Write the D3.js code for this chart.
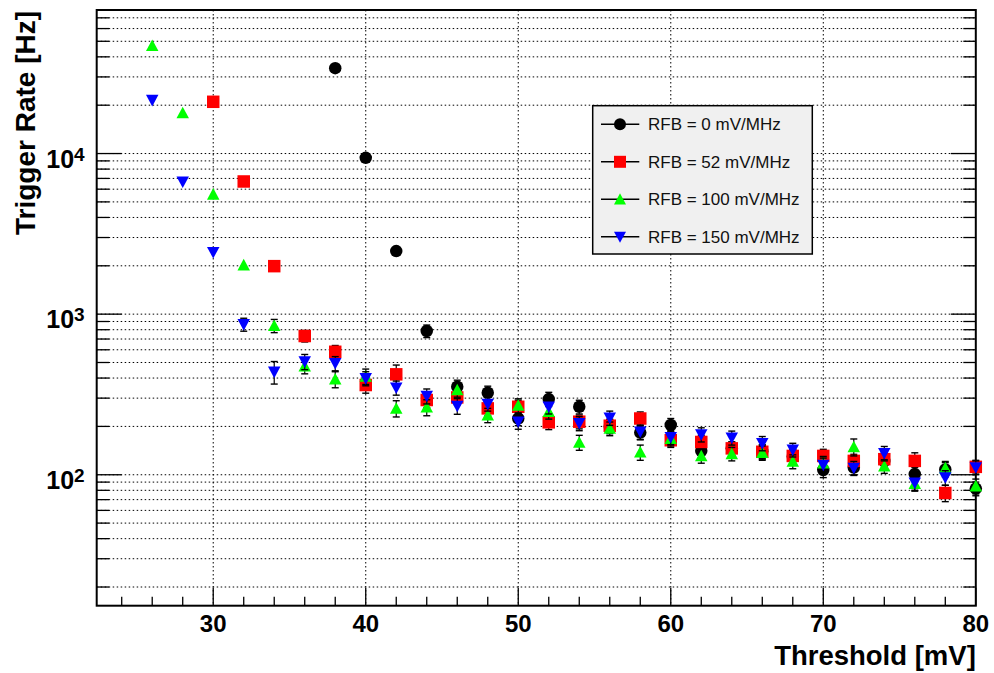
<!DOCTYPE html>
<html><head><meta charset="utf-8">
<script src="https://cdn.jsdelivr.net/npm/d3@7"></script>
<style>
html,body{margin:0;padding:0;background:#fff;}
svg{display:block;font-family:"Liberation Sans",Arial,Helvetica,sans-serif;}
</style></head>
<body><svg id="c" width="994" height="673"></svg>
<script>
const thresholds = [26,28,30,32,34,36,38,40,42,44,46,48,50,52,54,56,58,60,62,64,66,68,70,72,74,76,78,80];
const rfb0   = [null,null,null,null,null,null,34000,9400,2470,785,353,324,224,296,265,200,183,204,141,146,140,130,107,111,122,101,108,82];
const rfb0Err= [null,null,null,null,null,null,0,0,0,70,35,32,22,30,26,20,18,20,14,14,14,13,11,11,12,10,11,8];
const rfb52   = [null,null,21000,6700,1990,731,583,362,422,292,303,259,265,212,214,202,224,164,160,146,139,131,131,122,125,122,77,112];
const rfb52Err= [null,null,0,0,0,60,55,40,60,30,30,26,26,21,21,20,22,16,16,14,14,13,13,12,12,15,9,11];
const rfb100   = [46900,17900,5570,2020,847,475,393,410,259,263,337,235,270,247,159,194,138,168,131,135,137,121,118,149,113,88,110,85];
const rfb100Err= [0,0,0,0,80,50,45,45,30,30,33,24,27,25,17,19,15,17,13,13,14,12,12,18,11,9,11,9];
const rfb150   = [21500,6670,2430,863,437,506,494,398,348,309,268,276,214,265,209,226,185,171,178,170,157,143,115,110,136,89,96,111];
const rfb150Err= [0,0,0,80,70,55,50,40,35,33,30,27,22,26,21,23,19,17,18,17,16,14,12,11,14,9,10,11];
const seriesNames = ["RFB = 0 mV/MHz","RFB = 52 mV/MHz","RFB = 100 mV/MHz","RFB = 150 mV/MHz"];
const seriesColors = ["#000000","#ff0000","#00ff00","#0000ff"];
const seriesShapes = ["circle","square","triangleUp","triangleDown"];
const xTicks = [30,40,50,60,70,80];
const yMajor = [100,1000,10000];
const xTitle = "Threshold [mV]";
const yTitle = "Trigger Rate [Hz]";

const series = [
  {name:seriesNames[0], vals:rfb0, errs:rfb0Err},
  {name:seriesNames[1], vals:rfb52, errs:rfb52Err},
  {name:seriesNames[2], vals:rfb100, errs:rfb100Err},
  {name:seriesNames[3], vals:rfb150, errs:rfb150Err}
];

const L=96.7, R=975.8, T=10, B=605.7;
const svg = d3.select("#c");
const x = d3.scaleLinear().domain([22.36,80]).range([L,R]);
const y = d3.scaleLog().domain([15.3,78300]).range([B,T]);

// grid
const gridVals = [];
[10,100,1000,10000].forEach(d=>{for(let k=1;k<10;k++){const v=d*k; if(v>y.domain()[0]&&v<y.domain()[1]) gridVals.push(v);}});
const g = svg.append("g");
g.selectAll("line.hg").data(gridVals).enter().append("line")
  .attr("x1",L).attr("x2",R).attr("y1",d=>y(d)).attr("y2",d=>y(d))
  .attr("stroke","#000").attr("stroke-width",1).attr("stroke-dasharray","1.5,2.5");
g.selectAll("line.vg").data(xTicks.slice(0,-1)).enter().append("line")
  .attr("x1",d=>x(d)).attr("x2",d=>x(d)).attr("y1",T).attr("y2",B)
  .attr("stroke","#000").attr("stroke-width",1).attr("stroke-dasharray","1.5,2.5");

// axes ticks (inside)
const ax = svg.append("g");
const xMinor = d3.range(24,81,2);
ax.selectAll("line.xt").data(xMinor).enter().append("line")
  .attr("x1",d=>x(d)).attr("x2",d=>x(d)).attr("y1",B)
  .attr("y2",d=>B-(d%10===0?18:9)).attr("stroke","#000").attr("stroke-width",1.3);
ax.selectAll("line.yt").data(gridVals).enter().append("line")
  .attr("x1",L).attr("x2",d=>L+(yMajor.includes(d)?25:12.5))
  .attr("y1",d=>y(d)).attr("y2",d=>y(d)).attr("stroke","#000").attr("stroke-width",1.3);
ax.selectAll("line.yr").data(gridVals).enter().append("line")
  .attr("x1",R).attr("x2",d=>R-(yMajor.includes(d)?25:12.5))
  .attr("y1",d=>y(d)).attr("y2",d=>y(d)).attr("stroke","#000").attr("stroke-width",1.3);

// frame
svg.append("rect").attr("x",L).attr("y",T).attr("width",R-L).attr("height",B-T)
  .attr("fill","none").attr("stroke","#000").attr("stroke-width",2);

// tick labels
svg.selectAll("text.xl").data(xTicks).enter().append("text")
  .attr("x",d=>x(d)).attr("y",632).attr("text-anchor","middle")
  .attr("font-size",24).attr("font-weight","bold").text(d=>d);
const yl = svg.selectAll("text.yl").data(yMajor).enter().append("text")
  .attr("x",L-12).attr("y",d=>y(d)+14).attr("text-anchor","end")
  .attr("font-size",25).attr("font-weight","bold");
yl.append("tspan").text("10");
yl.append("tspan").attr("dy",-7).attr("font-size",19).text(d=>Math.round(Math.log10(d)));

// titles
svg.append("text").attr("x",R).attr("y",665).attr("text-anchor","end")
  .attr("font-size",27.5).attr("font-weight","bold").text(xTitle);
svg.append("text").attr("transform","translate(35,11) rotate(-90)").attr("text-anchor","end")
  .attr("font-size",28).attr("font-weight","bold").text(yTitle);

// markers
function shapePath(s, sz){
  const h=sz/2;
  if(s==="square") return `M${-h},${-h}H${h}V${h}H${-h}Z`;
  if(s==="triangleUp") return `M0,${-h}L${h},${h*0.85}L${-h},${h*0.85}Z`;
  if(s==="triangleDown") return `M0,${h}L${h},${-h*0.85}L${-h},${-h*0.85}Z`;
  return d3.symbol().type(d3.symbolCircle).size(Math.PI*h*h)();
}
const plot = svg.append("g");
series.forEach((s,i)=>{
  const pts = thresholds.map((t,j)=>({t, v:s.vals[j], e:s.errs[j]})).filter(p=>p.v!=null);
  const gg = plot.append("g");
  const eb = pts.filter(p=>p.e>0);
  gg.selectAll("line.eb").data(eb).enter().append("line")
    .attr("x1",p=>x(p.t)).attr("x2",p=>x(p.t))
    .attr("y1",p=>y(p.v+p.e)).attr("y2",p=>y(Math.max(p.v-p.e,1)))
    .attr("stroke","#000").attr("stroke-width",1.2);
  [1,-1].forEach(sg=>{
    gg.selectAll("line.cap"+sg).data(eb).enter().append("line")
      .attr("x1",p=>x(p.t)-3.5).attr("x2",p=>x(p.t)+3.5)
      .attr("y1",p=>y(p.v+sg*p.e)).attr("y2",p=>y(p.v+sg*p.e))
      .attr("stroke","#000").attr("stroke-width",1.4);
  });
  gg.selectAll("path.m").data(pts).enter().append("path")
    .attr("transform",p=>`translate(${x(p.t)},${y(p.v)})`)
    .attr("d",shapePath(seriesShapes[i], 12.5)).attr("fill",seriesColors[i]);
});

// legend
const lg = svg.append("g");
lg.append("rect").attr("x",592.7).attr("y",105.7).attr("width",219.6).attr("height",148.3)
  .attr("fill","#f0f0f0").attr("stroke","#000").attr("stroke-width",1.5);
series.forEach((s,i)=>{
  const yy = 124.3 + i*37.5;
  lg.append("line").attr("x1",601).attr("x2",639.3).attr("y1",yy).attr("y2",yy).attr("stroke","#000").attr("stroke-width",1.5);
  lg.append("path").attr("transform",`translate(620,${yy})`).attr("d",shapePath(seriesShapes[i],12)).attr("fill",seriesColors[i]);
  lg.append("text").attr("x",648).attr("y",yy+6).attr("font-size",17).attr("fill","#111").text(s.name);
});
</script></body></html>
